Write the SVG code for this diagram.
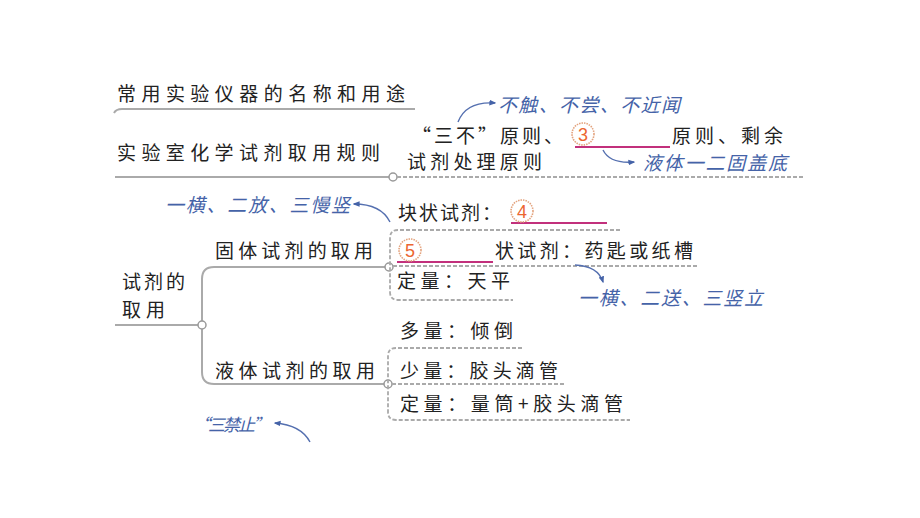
<svg xmlns="http://www.w3.org/2000/svg" width="920" height="518" viewBox="0 0 920 518">
<defs>
<style>
.t{font-family:"Noto Sans CJK SC","Noto Sans",sans-serif;font-size:19px;fill:#222;letter-spacing:5px}
.b{font-family:"Noto Sans CJK SC","Noto Sans",sans-serif;font-size:19px;fill:#4563a8;font-style:italic}
.ln{fill:none;stroke:#aaa;stroke-width:2}
.dl{fill:none;stroke:#aaa;stroke-width:1.8;stroke-dasharray:4 2}
.dot{fill:#fff;stroke:#999;stroke-width:1.5}
.mg{stroke:#c2307c;stroke-width:2}
.ar{fill:none;stroke:#5570b0;stroke-width:1.4;marker-end:url(#ah)}
.cn{fill:#fff;stroke:#e3a37e;stroke-width:1.6;stroke-dasharray:1.5 1}
.cd{font-family:"Liberation Sans",sans-serif;font-size:18px;fill:#ec6530;text-anchor:middle}
</style>
<marker id="ah" viewBox="0 0 10 10" refX="8" refY="5" markerWidth="7" markerHeight="7" orient="auto" markerUnits="userSpaceOnUse">
<path d="M0,1 L10,5 L0,9 z" fill="#4563a8"/>
</marker>
</defs>
<rect width="920" height="518" fill="#fff"/>

<g id="connectors">
<path class="ln" d="M114,113 Q116,109 122,109 H415"/>
<path class="ln" d="M115,177 H389"/>
<circle class="dot" cx="393" cy="177" r="4"/>
<path class="dl" d="M397,177 H805"/>
<path class="ln" d="M115,325 H198"/>
<path class="ln" d="M202,321 V279 Q202,267 214,267 H385"/>
<path class="ln" d="M202,329 V372 Q202,384 214,384 H384"/>
<circle class="dot" cx="202" cy="325" r="4"/>
<circle class="dot" cx="389" cy="267" r="4"/>
<circle class="dot" cx="388" cy="384" r="4"/>
<path class="dl" d="M620,230 H398 Q390,230 390,238 V292 Q390,300 398,300 H513"/>
<path class="dl" d="M393,266 H698"/>
<path class="dl" d="M522,348 H396 Q388,348 388,356 V412 Q388,420 396,420 H630"/>
<path class="dl" d="M392,384 H565"/>
<path class="ar" d="M458,122 Q466,101 495,103"/>
<path class="ar" d="M603,150 Q610,164 634,162"/>
<path class="ar" d="M390,222 Q381,204 354,204"/>
<path class="ar" d="M575,265 Q598,266 603,282"/>
<path class="ar" d="M310,442 Q301,425 275,423"/>
</g>

<g id="title1"><text class="t" x="117" y="101" textLength="293" lengthAdjust="spacing">常用实验仪器的名称和用途</text></g>
<g id="title2"><text class="t" x="117" y="160" textLength="268" lengthAdjust="spacing">实验室化学试剂取用规则</text></g>

<g id="rules">
<text class="t" x="412" y="143" textLength="156" lengthAdjust="spacing">“三不”原则、</text>
<line class="mg" x1="575" y1="147" x2="670" y2="147"/>
<circle class="cn" cx="583" cy="134" r="11"/>
<text class="cd" x="583" y="140.5">3</text>
<text class="t" x="672" y="143" textLength="116" lengthAdjust="spacing">原则、剩余</text>
<text class="t" x="407" y="169" textLength="140" lengthAdjust="spacing">试剂处理原则</text>
</g>

<g id="root"><text class="t" x="122" y="289" textLength="68" lengthAdjust="spacing">试剂的</text><text class="t" x="122" y="317">取用</text></g>

<g id="solid"><text class="t" x="215" y="258" textLength="163" lengthAdjust="spacing">固体试剂的取用</text></g>
<g id="liquid"><text class="t" x="215" y="378" textLength="165" lengthAdjust="spacing">液体试剂的取用</text></g>

<g id="solid-items">
<text class="t" x="398" y="220" textLength="108" lengthAdjust="spacing">块状试剂：</text>
<line class="mg" x1="511" y1="223" x2="607" y2="223"/>
<circle class="cn" cx="522" cy="211" r="11"/>
<text class="cd" x="522" y="217.5">4</text>
<line class="mg" x1="397" y1="262" x2="493" y2="262"/>
<circle class="cn" cx="410" cy="250" r="11"/>
<text class="cd" x="410" y="256.5">5</text>
<text class="t" x="495" y="258" textLength="203" lengthAdjust="spacing">状试剂：药匙或纸槽</text>
<text class="t" x="397" y="288" style="letter-spacing:4.5px">定量：天平</text>
</g>

<g id="liquid-items">
<text class="t" x="400" y="338" style="letter-spacing:4.5px">多量：倾倒</text>
<text class="t" x="400" y="378" textLength="163" lengthAdjust="spacing">少量：胶头滴管</text>
<text class="t" x="400" y="411" textLength="228" lengthAdjust="spacing">定量：量筒+胶头滴管</text>
</g>

<g id="notes">
<text class="b" x="498" y="112" textLength="182" lengthAdjust="spacing">不触、不尝、不近闻</text>
<text class="b" x="643" y="170" textLength="144" lengthAdjust="spacing">液体一二固盖底</text>
<text class="b" x="165" y="212" textLength="185" lengthAdjust="spacing">一横、二放、三慢竖</text>
<text class="b" x="578" y="305" textLength="185" lengthAdjust="spacing">一横、二送、三竖立</text>
<text class="b" x="193" y="431" textLength="77" lengthAdjust="spacing" style="font-size:17px">“三禁止”</text>
</g>
</svg>
